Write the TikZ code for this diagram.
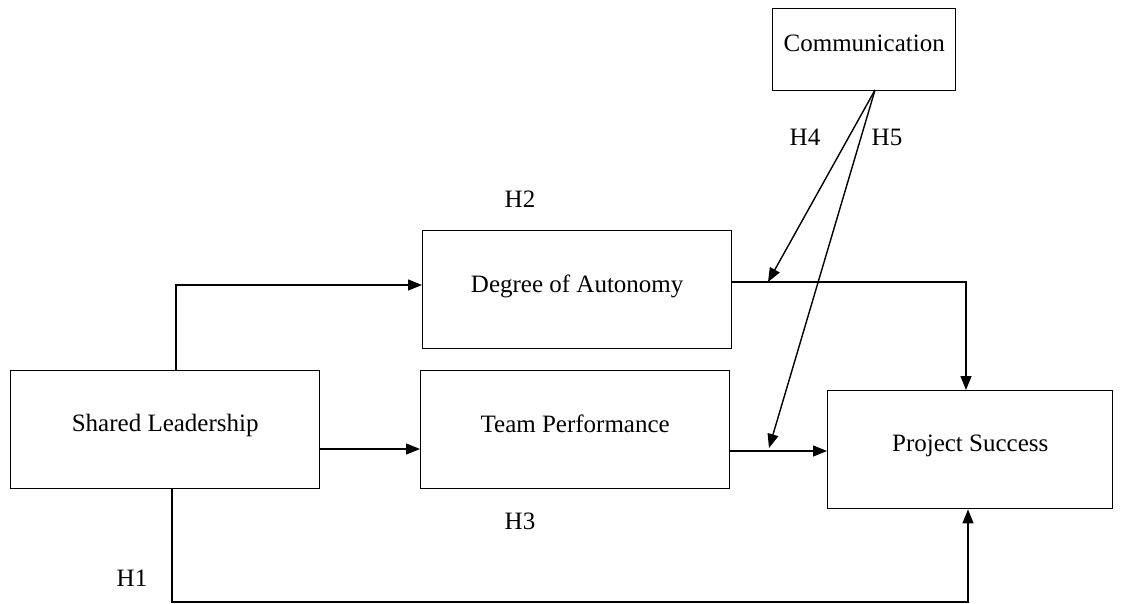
\documentclass[tikz,border=0pt]{standalone}
\usepackage{fontspec}
\setmainfont{Liberation Serif}
\usetikzlibrary{arrows.meta,calc}
\begin{document}
\begin{tikzpicture}[x=1pt,y=-1pt,
  box/.style={draw,line width=1.4pt,rectangle,inner sep=0pt,anchor=north west},
  arr/.style={line width=1.4pt,-{Triangle[length=14pt,width=11pt]}},
  lbl/.style={inner sep=0pt},
  every node/.append style={font=\fontsize{25}{30}\selectfont}]
\useasboundingbox (0,0) rectangle (1123,604);
\node[box,minimum width=183,minimum height=82] (COM) at (772,8) {\raisebox{13pt}{Communication}};
\node[box,minimum width=309,minimum height=118] (DA) at (422,230) {\raisebox{12pt}{Degree of Autonomy}};
\node[box,minimum width=309,minimum height=118] (SL) at (10,370) {\raisebox{13pt}{Shared Leadership}};
\node[box,minimum width=309,minimum height=118] (TP) at (420,370) {\raisebox{13pt}{Team Performance}};
\node[box,minimum width=285,minimum height=118] (PS) at (827,390) {\raisebox{13pt}{Project Success}};
\node[lbl] (H1) at (132,578) {H1};
\node[lbl] (H2) at (520,199) {H2};
\node[lbl] (H3) at (520,521) {H3};
\node[lbl] (H4) at (805,137) {H4};
\node[lbl] (H5) at (887,137) {H5};
\coordinate (c) at (875,90);
\coordinate (t4) at (768,282);
\coordinate (t5) at (769,448);
\draw[arr] (SL.north -| 176,0) |- (DA.west |- 0,285);
\draw[arr] (SL.east |- 0,449) -- (TP.west |- 0,449);
\draw[arr] (TP.east |- 0,451) -- (PS.west |- 0,451);
\draw[arr] (DA.east |- 0,282) -| (PS.north -| 966,0);
\draw[arr] (SL.south -| 172,0) -- (172,602) -| (PS.south -| 968,0);
\draw[arr] (c) -- (t4);
\draw[arr] (c) -- (t5);
\end{tikzpicture}
\end{document}
